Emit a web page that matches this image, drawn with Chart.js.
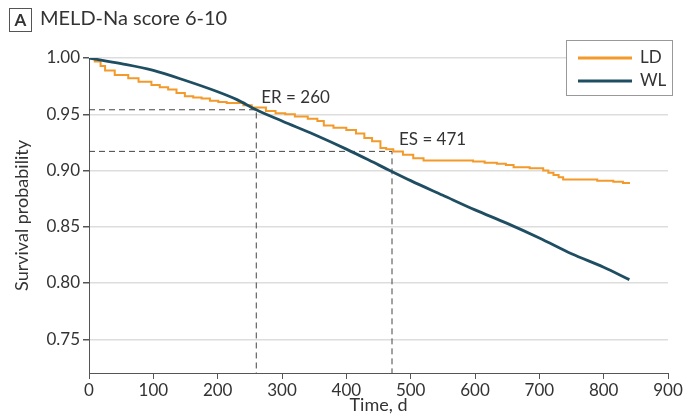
<!DOCTYPE html>
<html>
<head>
<meta charset="utf-8">
<script src="https://cdn.jsdelivr.net/npm/chart.js@4"></script>
<style>
  html, body { margin: 0; padding: 0; background: #fff; }
  #wrap { width: 690px; height: 420px; position: relative; }
</style>
</head>
<body>
<div id="wrap"><canvas id="km"></canvas></div>
<script>
// Kaplan-Meier survival, living donor (LD) vs waiting list (WL)
const ldDays = [0, 9, 18, 25, 40, 61, 77, 97, 110, 123, 136, 149, 162, 175, 188, 201, 214, 227, 240, 253,
  275, 290, 305, 320, 340, 355, 365, 380, 400, 415, 428, 440, 453, 462, 473, 488, 504, 520, 560,
  597, 615, 634, 648, 660, 685, 706, 714, 722, 730, 737, 760, 790, 815, 830, 841];
const ldSurv = [1.000, 0.997, 0.993, 0.989, 0.985, 0.982, 0.979, 0.976, 0.974, 0.972, 0.969, 0.966, 0.965, 0.964, 0.962, 0.961, 0.960, 0.960, 0.958, 0.956,
  0.953, 0.951, 0.950, 0.948, 0.946, 0.944, 0.940, 0.938, 0.936, 0.933, 0.929, 0.926, 0.920, 0.919, 0.917, 0.914, 0.911, 0.909, 0.909,
  0.908, 0.907, 0.906, 0.905, 0.903, 0.902, 0.900, 0.898, 0.896, 0.894, 0.892, 0.892, 0.891, 0.890, 0.889, 0.889];

const wlDays = [0, 50, 100, 150, 200, 230, 260, 300, 350, 400, 450, 500, 550, 600, 650, 700, 750, 800, 840];
const wlSurv = [1.000, 0.995, 0.989, 0.980, 0.970, 0.963, 0.954, 0.944, 0.932, 0.919, 0.905, 0.891, 0.878, 0.865, 0.853, 0.840, 0.826, 0.814, 0.803];

const yTicks = [0.75, 0.80, 0.85, 0.90, 0.95, 1.00];
const xTicks = [0, 100, 200, 300, 400, 500, 600, 700, 800, 900];

// equal-risk and equal-survival time points
const erDay = 260, erSurv = 0.954;
const esDay = 471, esSurv = 0.917;

const FONT = 'Lato, "Open Sans", sans-serif';
const TEXT = '#333333';
const LD_COLOR = '#f39a2b';
const WL_COLOR = '#1f4e63';
const Y_MIN = 0.72;

const toXY = (xs, ys) => xs.map((x, i) => ({ x: x, y: ys[i] }));

const dashed = (pts) => ({
  data: pts,
  borderColor: '#444',
  borderWidth: 1,
  borderDash: [6, 4],
  pointRadius: 0,
  fill: false,
  order: 3
});

const annotations = {
  id: 'annotations',
  afterDraw(chart) {
    const { ctx, scales: { x, y } } = chart;
    ctx.save();
    // panel letter + heading
    ctx.strokeStyle = '#555';
    ctx.lineWidth = 1;
    ctx.strokeRect(9.5, 8.5, 22, 23);
    ctx.fillStyle = TEXT;
    ctx.font = 'bold 17px ' + FONT;
    ctx.textAlign = 'center';
    ctx.textBaseline = 'middle';
    ctx.fillText('A', 20.5, 20.5);
    ctx.font = '20px ' + FONT;
    ctx.textAlign = 'left';
    ctx.fillText('MELD-Na score 6-10', 40, 19);

    // labels at crossing points
    ctx.font = '17px ' + FONT;
    ctx.fillText('ER = 260', x.getPixelForValue(erDay) + 5, y.getPixelForValue(erSurv) - 12);
    ctx.fillText('ES = 471', x.getPixelForValue(esDay) + 7, y.getPixelForValue(esSurv) - 12);

    // legend box
    const bx = 566, by = 40, bw = 106, bh = 55;
    ctx.fillStyle = '#fff';
    ctx.fillRect(bx, by, bw, bh);
    ctx.strokeStyle = '#999';
    ctx.strokeRect(bx + 0.5, by + 0.5, bw, bh);
    const items = chart.data.datasets.filter(d => d.label);
    items.forEach((d, i) => {
      const ly = by + 18 + i * 23;
      ctx.strokeStyle = d.borderColor;
      ctx.lineWidth = 3;
      ctx.beginPath();
      ctx.moveTo(bx + 12, ly);
      ctx.lineTo(bx + 66, ly);
      ctx.stroke();
      ctx.fillStyle = TEXT;
      ctx.font = '17px ' + FONT;
      ctx.textAlign = 'left';
      ctx.fillText(d.label, bx + 74, ly);
    });
    ctx.restore();
  }
};

new Chart(document.getElementById('km'), {
  type: 'line',
  data: {
    datasets: [
      {
        label: 'LD',
        data: toXY(ldDays, ldSurv),
        borderColor: LD_COLOR,
        borderWidth: 2,
        stepped: true,
        pointRadius: 0,
        order: 2
      },
      {
        label: 'WL',
        data: toXY(wlDays, wlSurv),
        borderColor: WL_COLOR,
        borderWidth: 2.8,
        pointRadius: 0,
        cubicInterpolationMode: 'monotone',
        order: 1
      },
      dashed([{ x: 0, y: erSurv }, { x: erDay, y: erSurv }, { x: erDay, y: Y_MIN }]),
      dashed([{ x: 0, y: esSurv }, { x: esDay, y: esSurv }, { x: esDay, y: Y_MIN }])
    ]
  },
  options: {
    responsive: true,
    maintainAspectRatio: false,
    animation: false,
    layout: { padding: { top: 58, right: 22, left: 0, bottom: 0 } },
    plugins: {
      legend: { display: false },
      tooltip: { enabled: false }
    },
    scales: {
      x: {
        type: 'linear',
        min: 0,
        max: 900,
        afterBuildTicks: (s) => { s.ticks = xTicks.map(v => ({ value: v })); },
        afterFit: (s) => { s.height = 47; },
        ticks: { color: TEXT, font: { family: FONT, size: 17 }, padding: 1, maxRotation: 0 },
        grid: { drawOnChartArea: false, drawTicks: true, tickLength: 6, tickColor: '#555' },
        border: { color: '#555', width: 1 },
        title: { display: true, text: 'Time, d', color: TEXT, font: { family: FONT, size: 18 }, padding: { top: 3 } }
      },
      y: {
        min: Y_MIN,
        max: 1.0,
        afterBuildTicks: (s) => { s.ticks = yTicks.map(v => ({ value: v })); },
        afterFit: (s) => { s.width = 89; },
        ticks: { color: TEXT, font: { family: FONT, size: 17 }, padding: 3, callback: (v) => v.toFixed(2) },
        grid: { color: '#dddddd', lineWidth: 1.5, drawTicks: true, tickLength: 6, tickColor: '#555' },
        border: { color: '#555', width: 1 },
        title: { display: true, text: 'Survival probability', color: TEXT, font: { family: FONT, size: 18 }, padding: { top: 11 } }
      }
    }
  },
  plugins: [annotations]
});
</script>
</body>
</html>
